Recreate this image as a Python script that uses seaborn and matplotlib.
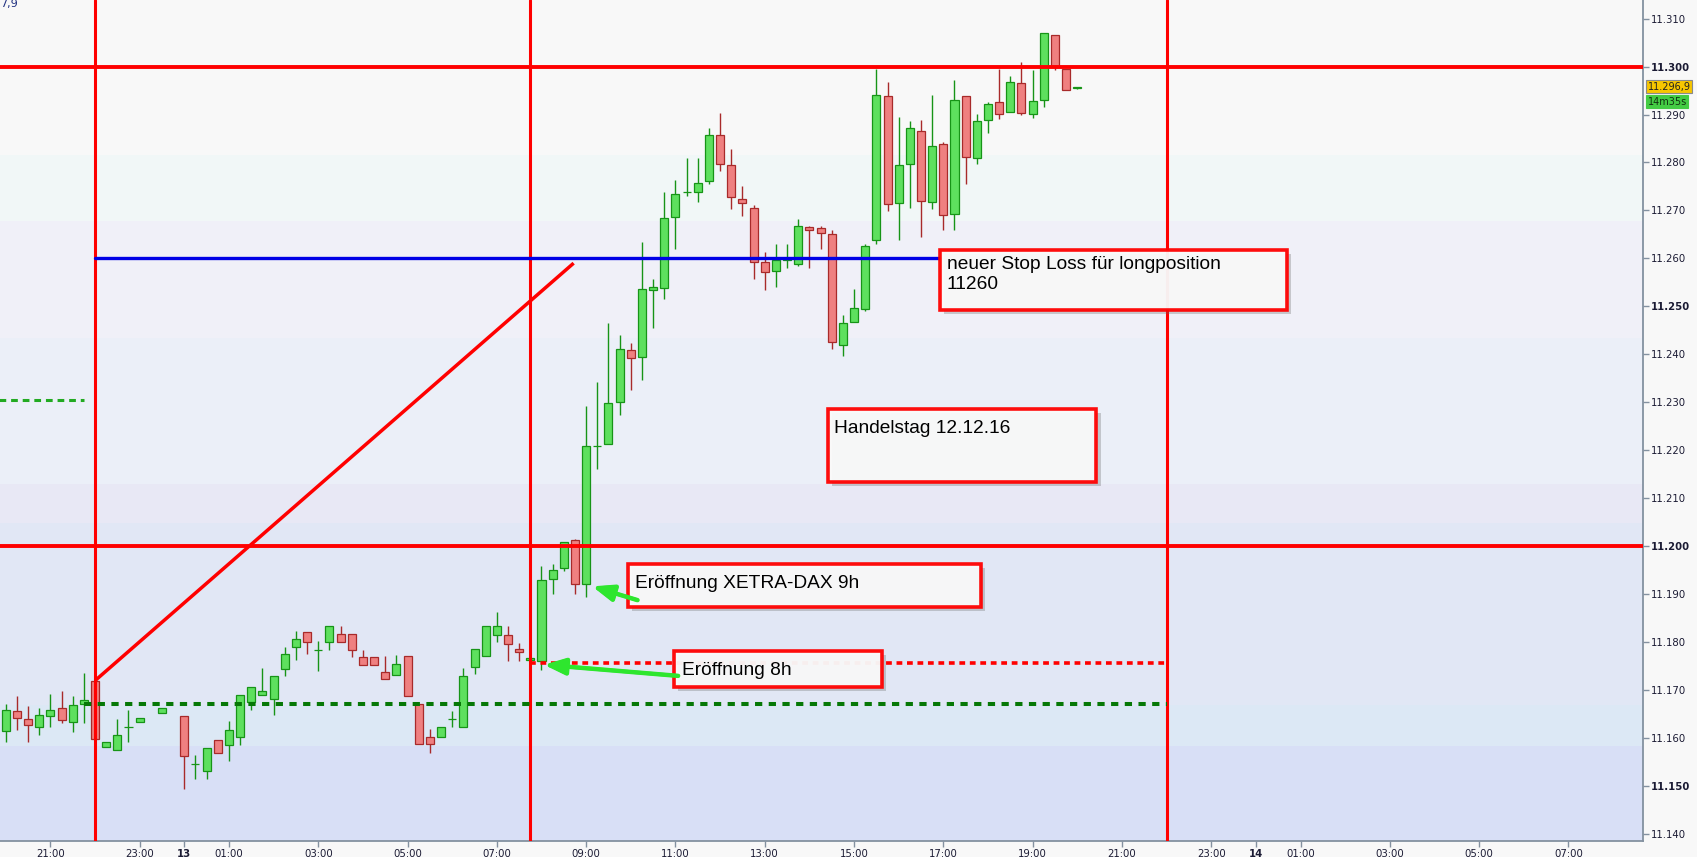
import numpy as np
import pandas as pd
import seaborn as sns
import matplotlib.pyplot as plt
import matplotlib.patheffects as pe
from matplotlib.patches import Rectangle

# 15 min candles, DAX, 12.12.16 20:00 -> 13.12.16 20:00 (23:15 and 23:45 have no candle)
opens = [11161.4, 11165.6, 11163.8, 11162.2, 11164.5, 11166.3, 11163.3, 11167.0, 11171.9, 11158.1,
         11157.4, 11162.3, 11163.3, 11165.2, 11164.6, 11154.6, 11153.1, 11159.6, 11158.5, 11160.1,
         11167.4, 11168.9, 11168.1, 11174.3, 11178.9, 11182.1, 11178.4, 11180.0, 11181.7, 11181.7,
         11176.9, 11176.9, 11173.8, 11173.1, 11177.1, 11167.1, 11160.2, 11160.1, 11164.0, 11162.2,
         11174.7, 11177.0, 11181.4, 11181.5, 11178.6, 11176.3, 11176.1, 11193.1, 11195.5, 11201.2,
         11192.1, 11220.9, 11221.3, 11230.1, 11240.9, 11239.5, 11253.4, 11253.8, 11268.7, 11273.9,
         11273.9, 11276.2, 11285.8, 11279.5, 11272.4, 11270.5, 11259.2, 11257.4, 11259.6, 11258.9,
         11266.6, 11266.4, 11265.1, 11242.0, 11246.8, 11249.5, 11263.9, 11293.9, 11271.6, 11279.7,
         11286.6, 11271.8, 11283.9, 11269.3, 11293.9, 11281.0, 11288.9, 11292.6, 11290.5, 11296.6,
         11290.1, 11293.0, 11306.6, 11299.5, 11295.6]
highs = [11167.0, 11168.6, 11166.7, 11166.3, 11169.2, 11169.7, 11168.6, 11173.4, 11172.4, 11159.2,
         11164.0, 11165.7, 11164.2, 11166.3, 11164.6, 11156.3, 11157.9, 11159.6, 11163.4, 11169.0,
         11170.6, 11174.5, 11172.9, 11179.0, 11182.2, 11182.1, 11180.1, 11183.2, 11183.2, 11181.7,
         11178.4, 11176.9, 11177.0, 11177.2, 11177.1, 11167.1, 11161.9, 11162.3, 11165.5, 11174.5,
         11178.6, 11183.2, 11186.3, 11183.2, 11179.7, 11176.7, 11195.9, 11196.3, 11200.9, 11201.5,
         11229.3, 11234.3, 11246.5, 11244.1, 11242.4, 11263.5, 11255.6, 11273.9, 11276.3, 11281.0,
         11281.0, 11287.3, 11290.4, 11282.9, 11275.0, 11271.2, 11261.4, 11263.1, 11262.9, 11268.3,
         11266.8, 11266.8, 11265.9, 11248.2, 11253.6, 11263.0, 11299.5, 11296.7, 11289.4, 11288.7,
         11288.9, 11294.0, 11284.2, 11297.3, 11293.9, 11290.2, 11292.7, 11299.5, 11298.1, 11301.0,
         11299.2, 11307.0, 11306.6, 11299.5, 11295.8]
lows = [11159.2, 11161.7, 11159.2, 11160.6, 11162.2, 11163.0, 11161.1, 11163.0, 11159.7, 11158.1,
        11157.4, 11159.0, 11163.3, 11165.2, 11149.4, 11151.3, 11151.3, 11156.8, 11155.1, 11158.4,
        11165.7, 11168.9, 11164.7, 11172.8, 11176.3, 11177.4, 11174.0, 11178.2, 11180.0, 11176.8,
        11175.2, 11175.2, 11172.2, 11173.1, 11168.7, 11158.7, 11156.9, 11160.1, 11162.2, 11162.2,
        11173.3, 11177.0, 11180.0, 11176.0, 11176.0, 11176.3, 11174.1, 11190.0, 11194.8, 11190.0,
        11189.3, 11216.0, 11221.3, 11227.3, 11232.5, 11234.6, 11245.4, 11251.5, 11261.9, 11273.0,
        11271.7, 11275.5, 11278.2, 11270.3, 11268.8, 11255.7, 11253.4, 11254.0, 11257.9, 11258.4,
        11257.9, 11262.0, 11241.1, 11239.7, 11246.8, 11249.0, 11263.0, 11269.8, 11263.8, 11270.5,
        11264.4, 11270.2, 11265.9, 11265.9, 11275.5, 11279.6, 11286.1, 11289.0, 11290.5, 11290.0,
        11289.2, 11291.5, 11299.2, 11295.1, 11295.3]
closes = [11165.8, 11164.1, 11162.6, 11164.8, 11165.8, 11163.7, 11166.9, 11167.9, 11159.7, 11159.2,
          11160.6, 11162.3, 11164.2, 11166.3, 11156.2, 11154.6, 11157.9, 11156.8, 11161.7, 11169.0,
          11170.6, 11169.8, 11172.9, 11177.5, 11180.6, 11180.0, 11178.4, 11183.2, 11180.0, 11178.3,
          11175.2, 11175.2, 11172.2, 11175.4, 11168.7, 11158.7, 11158.7, 11162.3, 11164.0, 11172.9,
          11178.6, 11183.2, 11183.2, 11179.5, 11177.9, 11176.7, 11193.0, 11195.0, 11200.9, 11192.1,
          11220.8, 11220.9, 11229.9, 11241.1, 11239.2, 11253.6, 11254.1, 11268.4, 11273.5, 11273.9,
          11275.7, 11285.8, 11279.7, 11272.8, 11271.6, 11259.2, 11257.1, 11259.6, 11259.8, 11266.8,
          11265.9, 11265.3, 11242.5, 11246.5, 11249.7, 11262.6, 11294.1, 11271.4, 11279.5, 11287.2,
          11272.0, 11283.5, 11269.1, 11293.0, 11281.2, 11288.7, 11292.2, 11290.1, 11296.8, 11290.3,
          11292.8, 11307.0, 11300.0, 11295.1, 11295.7]

times = pd.date_range("2016-12-12 20:00", "2016-12-13 20:00", freq="15min")
times = times.drop(pd.to_datetime(["2016-12-12 23:15", "2016-12-12 23:45"]))
day_start = pd.Timestamp("2016-12-13 00:00")

# levels (price)
resistance_levels = [11300, 11200]
stop_loss = 11260
open_8h = 11175.6
green_level = 11167.0
prev_green_level = 11230.4
last_price = "11.296,9"
countdown = "14m35s"

y_ticks = list(range(11140, 11311, 10))
x_tick_hours = [-3, -1, 0, 1, 3, 5, 7, 9, 11, 13, 15, 17, 19, 21, 23, 24, 25, 27, 29, 31]
x_tick_labels = ["21:00", "23:00", "13", "01:00", "03:00", "05:00", "07:00", "09:00", "11:00",
                 "13:00", "15:00", "17:00", "19:00", "21:00", "23:00", "14", "01:00", "03:00",
                 "05:00", "07:00"]

sns.set_theme(style="white")
plt.rcParams["font.family"] = ["DejaVu Sans"]

df = pd.DataFrame({"open": opens, "high": highs, "low": lows, "close": closes}, index=times)
df["x"] = (df.index - day_start) / pd.Timedelta(hours=1)
df["up"] = df["close"] >= df["open"]

fig = plt.figure(figsize=(16.97, 8.57), dpi=100, facecolor="#f8f8f8")
ax = fig.add_axes([0, 0.01867, 0.9679, 0.98133])
ax.set_xlim(-4.128, 32.66)
ax.set_ylim(11138.45, 11313.9)

# background bands
band_edges = [11313.9, 11281.6, 11267.8, 11243.4, 11212.9, 11204.8, 11166.8, 11158.3, 11138.45]
band_colors = ["#f8f8f8", "#f1f7f7", "#f0f0f8", "#ebeff8", "#e8e8f5", "#e1e7f5", "#dce8f5", "#d8dff6"]
for hi, lo, c in zip(band_edges[:-1], band_edges[1:], band_colors):
    ax.axhspan(lo, hi, color=c, lw=0, zorder=0)

# candles
for is_up, part in df.groupby("up"):
    fill, edge = ("#5ee05e", "#179417") if is_up else ("#ef8080", "#a82a2a")
    ax.vlines(part["x"], part["low"], part["high"], color=edge, lw=1.0, zorder=2)
    ax.bar(part["x"], (part["close"] - part["open"]).abs(),
           bottom=part[["open", "close"]].min(axis=1), width=0.18,
           color=fill, edgecolor=edge, linewidth=0.9, zorder=3)

red = "#ff0000"
for lvl in resistance_levels:
    ax.axhline(lvl, color=red, lw=2.8, zorder=4)
for t in [-2, 7.75, 22]:
    ax.axvline(t, color=red, lw=2.2, zorder=4)

ax.plot([-2, 16.93], [stop_loss, stop_loss], color="#0000e6", lw=2.4, zorder=4)
ax.plot([-2, 8.72], [11171.9, 11259.0], color=red, lw=2.5, zorder=4, solid_capstyle="butt")
ax.plot([-2.25, 22], [green_level, green_level], color="#067806", lw=2.9,
        ls=(0, (1.8, 1.6)), zorder=4)
ax.plot([7.75, 22], [open_8h, open_8h], color=red, lw=2.6, ls=(0, (1.6, 1.3)), zorder=4)
ax.plot([-4.2, -2.25], [prev_green_level, prev_green_level], color="#22aa22", lw=2.2,
        ls=(0, (2.2, 1.6)), zorder=4)

# annotation boxes: (x0, x1, y0, y1) in hours / price
shadow = [pe.withSimplePatchShadow(offset=(3, -3), shadow_rgbFace="#666666", alpha=0.3)]
boxes = [(16.93, 24.69, 11249.24, 11261.76), (14.42, 20.43, 11213.4, 11228.6),
         (9.93, 17.84, 11187.34, 11196.24), (10.97, 15.62, 11170.64, 11178.16)]
for x0, x1, y0, y1 in boxes:
    r = Rectangle((x0, y0), x1 - x0, y1 - y0, facecolor="#fafafa", alpha=0.95,
                  edgecolor=red, lw=2.6, zorder=6)
    r.set_path_effects(shadow)
    ax.add_patch(r)

txt = dict(fontsize=13.8, family=["Liberation Sans", "DejaVu Sans"], color="black",
           va="baseline", ha="left", zorder=7, linespacing=1.2)
ax.text(17.08, 11253.7, "neuer Stop Loss für longposition\n11260", **txt)
ax.text(14.56, 11223.5, "Handelstag 12.12.16", **txt)
ax.text(10.09, 11191.2, "Eröffnung XETRA-DAX 9h", **txt)
ax.text(11.14, 11173.1, "Eröffnung 8h", **txt)

arrow = dict(arrowstyle="-|>,head_length=0.9,head_width=0.35", color="#2ee62e", lw=2.6,
             shrinkA=0, shrinkB=0, mutation_scale=14,
             path_effects=[pe.withStroke(linewidth=3.2, foreground="#2ee62e")])
ax.annotate("", xy=(9.16, 11191.5), xytext=(10.15, 11188.7), arrowprops=arrow, zorder=8)
ax.annotate("", xy=(8.08, 11175.2), xytext=(11.06, 11172.9), arrowprops=arrow, zorder=8)

# axes styling
for s in ["top", "left"]:
    ax.spines[s].set_visible(False)
for s in ["right", "bottom"]:
    ax.spines[s].set_color("#8391a0")
    ax.spines[s].set_linewidth(1.3)
ax.yaxis.tick_right()
ax.set_yticks(y_ticks, labels=[f"{v:,}".replace(",", ".") for v in y_ticks])
for lbl, v in zip(ax.get_yticklabels(), y_ticks):
    if v % 50 == 0:
        lbl.set_fontweight("bold")
        lbl.set_fontsize(8)
ax.set_xticks(x_tick_hours, labels=x_tick_labels)
for lbl in ax.get_xticklabels():
    if ":" not in lbl.get_text():
        lbl.set_fontweight("bold")
        lbl.set_fontsize(8.5)
ax.tick_params(axis="both", which="both", direction="out", length=4, width=1,
               color="#8391a0", labelcolor="#1a1a33", labelsize=7.3, pad=2,
               bottom=True, right=True, left=False)
ax.grid(False)

yx = ax.get_yaxis_transform()
ax.text(1.0032, 11295.8, last_price, transform=yx, fontsize=7, color="#222222",
        va="center", ha="left", clip_on=False,
        bbox=dict(boxstyle="square,pad=0.15", fc="#f7c600", ec="#8a8a8a", lw=0.8))
ax.text(1.0032, 11292.7, countdown, transform=yx, fontsize=7, color="#113311",
        va="center", ha="left", clip_on=False,
        bbox=dict(boxstyle="square,pad=0.15", fc="#44cc44", ec="#44cc44", lw=0.8))
ax.annotate("7,9", xy=(0, 1), xycoords="axes fraction", xytext=(0, -5),
            textcoords="offset points", fontsize=8, color="#203080", va="baseline")

fig.savefig("out.png", dpi=100, facecolor=fig.get_facecolor())
